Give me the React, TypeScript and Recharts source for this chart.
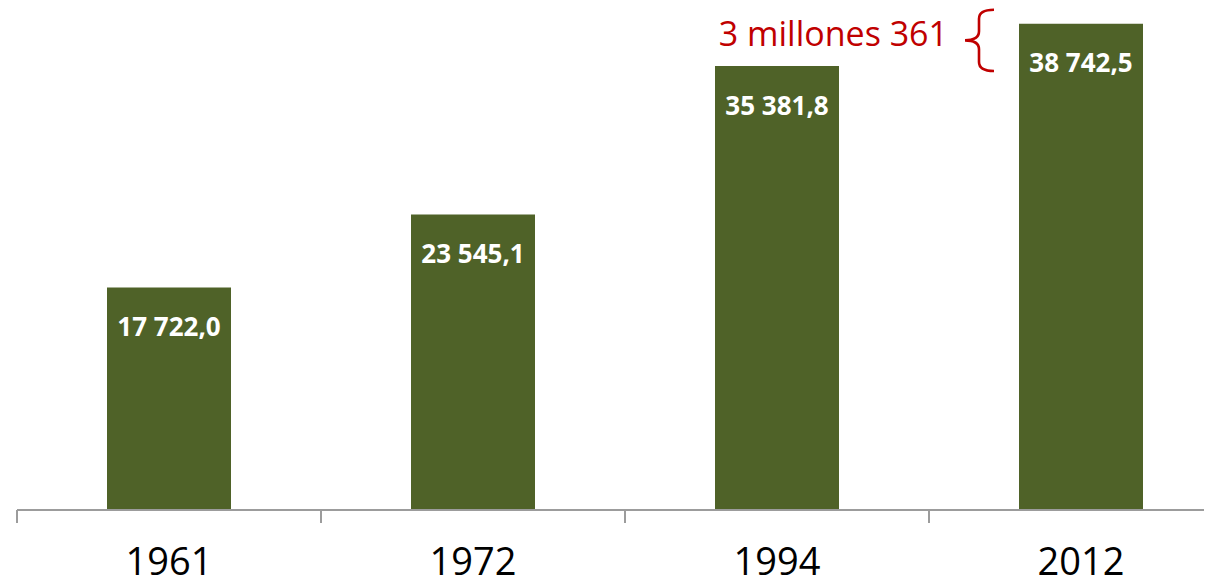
import React from 'react';
import { BarChart, Bar, XAxis, YAxis, LabelList, ReferenceArea } from 'recharts';

const years = ['1961', '1972', '1994', '2012'];
const population = [17722.0, 23545.1, 35381.8, 38742.5];
const valueLabels = ['17 722,0', '23 545,1', '35 381,8', '38 742,5'];
const annotationText = '3 millones 361';
const yDomain = [0, 40000];

const data = years.map((year, i) => ({ year, value: population[i], label: valueLabels[i] }));

const BAR_COLOR = '#4F6228';
const AXIS_COLOR = '#9C9C9C';
const RED = '#C00000';
const FONT = '"Open Sans", "DejaVu Sans", sans-serif';

const CategoryTick = (props: any) => {
  const { x, y, payload } = props;
  const half = payload && typeof payload.offset === 'number' ? payload.offset : 0;
  return (
    <g>
      <line x1={x - half} x2={x - half} y1={y} y2={y + 13} stroke={AXIS_COLOR} strokeWidth={2} />
      <line x1={x + half} x2={x + half} y1={y} y2={y + 13} stroke={AXIS_COLOR} strokeWidth={2} />
      <text x={x} y={y + 65} textAnchor="middle" fontFamily={FONT} fontSize={38} fill="#000">
        {payload.value}
      </text>
    </g>
  );
};

const BarLabel = (props: any) => {
  const { x, y, width, value } = props;
  return (
    <text
      x={Number(x) + Number(width) / 2}
      y={Number(y) + 48.6}
      textAnchor="middle"
      fontFamily={FONT}
      fontWeight="bold"
      fontSize={26}
      fill="#FFFFFF"
    >
      {value}
    </text>
  );
};

const BraceShape = (props: any) => {
  const { x, y, height } = props;
  const T = y - 14;
  const B = y + height + 5;
  const M = (T + B) / 2;
  const E = x + 65;
  const S = x + 50;
  const P = x + 36;
  const r = 9;
  const d = `M ${E} ${T} Q ${S} ${T} ${S} ${T + r} L ${S} ${M - r} Q ${S} ${M} ${P} ${M} Q ${S} ${M} ${S} ${M + r} L ${S} ${B - r} Q ${S} ${B} ${E} ${B}`;
  return (
    <g>
      <path d={d} fill="none" stroke={RED} strokeWidth={2.6} />
      <text x={x + 19} y={M + 6} textAnchor="end" fontFamily={FONT} fontSize={34} fill={RED}>
        {annotationText}
      </text>
    </g>
  );
};

export default function App() {
  return (
    <div style={{ width: 1204, height: 578, overflow: 'hidden' }}>
      <BarChart
        width={1225}
        height={578}
        data={data}
        margin={{ top: 0, right: 0, bottom: 0, left: 9 }}
        barSize={124}
      >
        <XAxis
          dataKey="year"
          height={76}
          axisLine={{ stroke: AXIS_COLOR, strokeWidth: 2 }}
          tickLine={false}
          tickSize={0}
          tickMargin={0}
          tick={<CategoryTick />}
          interval={0}
        />
        <YAxis hide domain={yDomain} />
        <Bar dataKey="value" fill={BAR_COLOR} isAnimationActive={false}>
          <LabelList dataKey="label" content={<BarLabel />} />
        </Bar>
        <ReferenceArea
          x1={years[3]}
          x2={years[3]}
          y1={population[2]}
          y2={population[3]}
          ifOverflow="visible"
          shape={<BraceShape />}
        />
      </BarChart>
    </div>
  );
}
